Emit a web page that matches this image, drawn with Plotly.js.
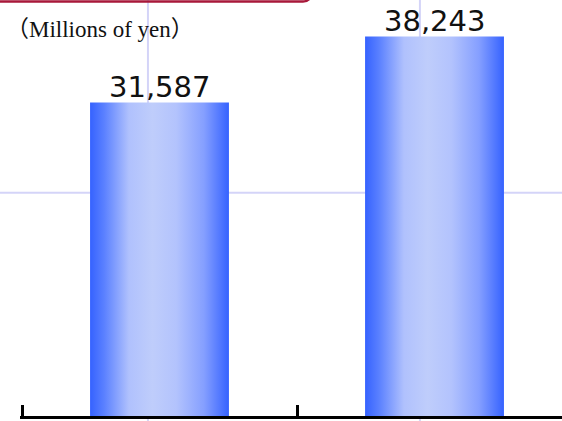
<!DOCTYPE html>
<html>
<head>
<meta charset="utf-8">
<script src="https://cdn.plot.ly/plotly-3.0.1.min.js"></script>
<style>
html,body{margin:0;padding:0;background:#fff;}
#chart{width:562px;height:421px;}
</style>
</head>
<body>
<div id="chart"></div>
<script>
// Data
const categories = ["Period 1", "Period 2"];
const values = [31587, 38243];
const valueLabels = ["31,587", "38,243"];
const unitLabel = "（Millions of yen）";

const trace = {
  type: "bar",
  x: categories,
  y: values,
  width: 0.505,
  marker: {color: "#3562ff", line: {width: 0}},
  hoverinfo: "none"
};

const gridColor = "#d4d4f8";
const valueAnnotations = categories.map(function(c, i){
  return {xref: "x", yref: "y", x: c, y: values[i], xanchor: "center", yanchor: "bottom",
          yshift: -3, text: valueLabels[i], showarrow: false,
          font: {family: "DejaVu Sans", size: 29, color: "#111"}};
});

const layout = {
  width: 562, height: 421,
  margin: {l: 20, r: 0, t: 0, b: 5, pad: 0},
  paper_bgcolor: "#fff", plot_bgcolor: "rgba(0,0,0,0)",
  showlegend: false,
  xaxis: {
    type: "category",
    range: [-0.5 - 2/275, 1.4636],
    tickson: "boundaries",
    ticks: "inside", ticklen: 11, tickwidth: 3, tickcolor: "#000",
    showticklabels: false,
    showgrid: false, zeroline: false,
    showline: true, linecolor: "#000", linewidth: 3
  },
  yaxis: {
    range: [0, 41930],
    showticklabels: false, ticks: "",
    showgrid: false, zeroline: false, showline: false
  },
  shapes: [
    {type: "line", layer: "below", xref: "paper", yref: "y", x0: -0.05, x1: 1, y0: 22500, y1: 22500, line: {color: gridColor, width: 2}},
    {type: "line", layer: "below", xref: "x", yref: "paper", x0: -0.042, x1: -0.042, y0: -5/416, y1: 1, line: {color: gridColor, width: 2}},
    {type: "line", layer: "below", xref: "x", yref: "paper", x0: 0.947, x1: 0.947, y0: -5/416, y1: 1, line: {color: gridColor, width: 2}},
    {type: "path", layer: "above", xref: "paper", yref: "paper",
     path: "M -0.06 0.9964 L " + ((303-20)/542) + " 0.9964 Q " + ((309-20)/542) + " 0.9964 " + ((311-20)/542) + " 1.01",
     line: {color: "#a8183a", width: 2.5}}
  ],
  annotations: valueAnnotations.concat([
    {xref: "paper", yref: "paper", x: -16/542, y: (416-30)/416, xanchor: "left", yanchor: "middle",
     text: unitLabel, showarrow: false,
     font: {family: "Liberation Serif, Noto Sans CJK JP, serif", size: 23, color: "#111"}}
  ])
};

Plotly.newPlot("chart", [trace], layout, {displayModeBar: false, staticPlot: true}).then(function(gd){
  const svg = gd.querySelector("svg.main-svg");
  const ns = "http://www.w3.org/2000/svg";
  let defs = svg.querySelector("defs");
  if (!defs) { defs = document.createElementNS(ns, "defs"); svg.insertBefore(defs, svg.firstChild); }
  const grad = document.createElementNS(ns, "linearGradient");
  grad.setAttribute("id", "barGrad");
  grad.setAttribute("x1", "0"); grad.setAttribute("y1", "0");
  grad.setAttribute("x2", "1"); grad.setAttribute("y2", "0");
  [[0, "#3562ff"], [0.1, "#5a80ff"], [0.28, "#b0c1fd"], [0.45, "#bfcdfb"], [0.62, "#b3c3fd"], [0.82, "#859fff"], [1, "#3562ff"]].forEach(function(s){
    const st = document.createElementNS(ns, "stop");
    st.setAttribute("offset", s[0]);
    st.setAttribute("stop-color", s[1]);
    grad.appendChild(st);
  });
  defs.appendChild(grad);
  gd.querySelectorAll(".bars .point path").forEach(function(p){
    p.style.fill = "url(#barGrad)";
  });
});
</script>
</body>
</html>
